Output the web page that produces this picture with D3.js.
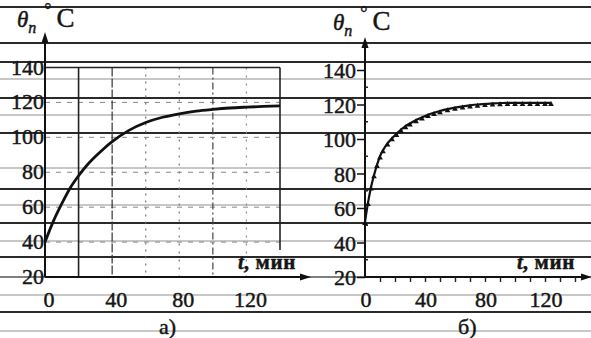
<!DOCTYPE html>
<html>
<head>
<meta charset="utf-8">
<script src="https://cdn.jsdelivr.net/npm/d3@7"></script>
<style>
  body { margin: 0; background: #fff; }
</style>
</head>
<body>
<svg id="fig" width="591" height="338"></svg>
<script>
// data
var timeA = [0, 5, 10, 15, 20, 25, 30, 35, 40, 50, 60, 70, 80, 90, 100, 110, 120, 130, 140];
var tempA = [40, 52, 62, 71, 78, 84, 89, 93.5, 97.5, 104, 108.5, 111.5, 113.5, 115, 116, 116.8, 117.3, 117.7, 118];

var timeB = [0, 2, 4, 6, 8, 10, 12, 15, 18, 21, 24, 27, 30, 34, 38, 42, 46, 50, 55, 60, 65, 70, 75, 80, 85, 90, 95, 100, 105, 110, 115, 120, 124];
var tempB = [52, 63, 72, 79, 85, 90, 93.5, 97.5, 100.5, 103, 105.5, 107.5, 109, 111, 112.5, 114, 115.2, 116.2, 117.3, 118.2, 118.9, 119.5, 120, 120.3, 120.6, 120.8, 121, 121, 121, 121, 121, 121, 121];

var xTicksLabel = [0, 40, 80, 120];
var yTicksLabel = [20, 40, 60, 80, 100, 120, 140];
var gridA = [20, 40, 60, 80, 100, 120, 140];
var hGridA = [40, 60, 80, 100, 120];

var serif = "Liberation Serif";

// horizontal stripes of the scanned page (pixel rows, dark or light)
var stripes = [[7, 1], [43, 0.6], [62, 1], [79, 0.3], [98, 1], [115, 0.3], [133, 1], [168, 0.35],
  [189, 1], [205, 0.3], [223, 1], [241, 0.3], [257, 0.9], [295, 0.3], [312, 1], [331, 0.3]];

var svg = d3.select("#fig");

svg.selectAll(".stripe")
  .data(stripes)
  .join("line")
  .attr("x1", 0).attr("x2", 591)
  .attr("y1", d => d[0]).attr("y2", d => d[0])
  .attr("stroke", d => d[1] > 0.5 ? "#2a2a2a" : "#b5b5b5")
  .attr("stroke-width", d => d[1] > 0.5 ? 2 : 1.6);

svg.append("line").attr("x1", 0).attr("x2", 591).attr("y1", 277).attr("y2", 277)
  .attr("stroke", "#555").attr("stroke-width", 1.5);

function arrowHead(g, x, y, dir) {
  var p = dir == "up"
    ? [[x, y], [x - 3.5, y + 11], [x + 3.5, y + 11]]
    : [[x, y], [x - 11, y - 3.5], [x - 11, y + 3.5]];
  g.append("path").attr("d", "M" + p.join("L") + "Z").attr("fill", "#111");
}

// scanned print is heavy, so give the glyphs a thin outline
function ink(sel) {
  return sel.attr("font-family", serif).attr("fill", "#151515")
    .attr("stroke", "#151515").attr("stroke-width", 0.45);
}

function txt(g) {
  return ink(g.append("text"));
}

function yLabel(g, x, y) {
  var t = txt(g).attr("x", x).attr("y", y);
  t.append("tspan").text("θ").attr("font-style", "italic").attr("font-size", 23);
  t.append("tspan").text("п").attr("font-style", "italic").attr("font-size", 16).attr("dy", 6);
  t.append("tspan").text("°").attr("font-size", 18).attr("dy", -17).attr("dx", 8);
  t.append("tspan").text("C").attr("font-size", 27).attr("dy", 11).attr("dx", 5);
}

function tLabel(g, x, y) {
  var t = txt(g).attr("x", x).attr("y", y).attr("font-size", 21).attr("font-weight", "bold");
  t.append("tspan").text("t").attr("font-style", "italic");
  t.append("tspan").text(", мин").attr("letter-spacing", 0.6);
}

// ---------- panel a ----------
var xA = d3.scaleLinear().domain([0, 140]).range([45, 280]);
var yA = d3.scaleLinear().domain([20, 140]).range([277, 67.5]);
var gA = svg.append("g");

var vStyle = {20: "none", 40: "9,2", 60: "2,5", 80: "2,6", 100: "7,3,2,3", 120: "2,6", 140: "none"};
var vColor = {20: "#222", 40: "#333", 60: "#777", 80: "#777", 100: "#444", 120: "#888", 140: "#222"};

gA.selectAll(".hg")
  .data(hGridA)
  .join("line")
  .attr("x1", xA(0)).attr("x2", xA(140))
  .attr("y1", d => yA(d)).attr("y2", d => yA(d))
  .attr("stroke", "#888").attr("stroke-width", 1).attr("stroke-dasharray", "5,6");

gA.selectAll(".vg")
  .data(gridA)
  .join("line")
  .attr("x1", d => xA(d)).attr("x2", d => xA(d))
  .attr("y1", yA(140)).attr("y2", d => d == 140 ? 250 : yA(20))
  .attr("stroke", d => vColor[d]).attr("stroke-width", d => (d == 20 || d == 140) ? 1.6 : 1.2)
  .attr("stroke-dasharray", d => vStyle[d]);

gA.append("line").attr("x1", xA(0)).attr("x2", xA(140)).attr("y1", yA(140)).attr("y2", yA(140))
  .attr("stroke", "#222").attr("stroke-width", 1.6);

gA.append("line").attr("x1", xA(0)).attr("x2", xA(0)).attr("y1", yA(20)).attr("y2", 40)
  .attr("stroke", "#111").attr("stroke-width", 2);
arrowHead(gA, xA(0), 32, "up");
gA.append("line").attr("x1", xA(0)).attr("x2", 302).attr("y1", yA(20)).attr("y2", yA(20))
  .attr("stroke", "#111").attr("stroke-width", 2);
arrowHead(gA, 311, yA(20), "right");

ink(gA.selectAll(".yl")
  .data(yTicksLabel)
  .join("text"))
  .attr("x", xA(0) - 1).attr("y", d => yA(d) + 7)
  .attr("text-anchor", "end").attr("font-size", 22)
  .text(d => d);

ink(gA.selectAll(".xl")
  .data(xTicksLabel)
  .join("text"))
  .attr("x", d => xA(d) + 4).attr("y", 307)
  .attr("text-anchor", "middle").attr("font-size", 22)
  .text(d => d);

gA.append("path")
  .datum(timeA.map((t, i) => [t, tempA[i]]))
  .attr("d", d3.line().x(d => xA(d[0])).y(d => yA(d[1])).curve(d3.curveMonotoneX))
  .attr("fill", "none").attr("stroke", "#111").attr("stroke-width", 2.8);

yLabel(gA, 17, 27);
tLabel(gA, 238, 269);
txt(gA).attr("x", 159).attr("y", 334).attr("font-size", 22).text("а)");

// ---------- panel b ----------
var xB = d3.scaleLinear().domain([0, 140]).range([365, 575]);
var yB = d3.scaleLinear().domain([20, 140]).range([277, 70]);
var gB = svg.append("g");

gB.append("line").attr("x1", xB(0)).attr("x2", xB(0)).attr("y1", yB(20)).attr("y2", 45)
  .attr("stroke", "#111").attr("stroke-width", 2);
arrowHead(gB, xB(0), 37, "up");
gB.append("line").attr("x1", xB(0)).attr("x2", 582).attr("y1", yB(20)).attr("y2", yB(20))
  .attr("stroke", "#111").attr("stroke-width", 2);
arrowHead(gB, 592, yB(20), "right");

gB.append("g")
  .attr("transform", "translate(" + xB(0) + ",0)")
  .call(d3.axisLeft(yB).tickValues(yTicksLabel).tickSize(8).tickPadding(1).tickFormat(d => d))
  .call(g => g.select(".domain").remove())
  .call(g => g.selectAll("line").attr("stroke", "#111").attr("stroke-width", 1.5))
  .call(g => ink(g.selectAll("text")).attr("font-size", 22).attr("dy", "0.35em"));

gB.selectAll(".ym")
  .data(d3.range(30, 140, 20))
  .join("line")
  .attr("x1", xB(0)).attr("x2", xB(0) + 3)
  .attr("y1", d => yB(d)).attr("y2", d => yB(d))
  .attr("stroke", "#222").attr("stroke-width", 1.5);

gB.append("g")
  .attr("transform", "translate(0," + yB(20) + ")")
  .call(d3.axisBottom(xB).tickValues(d3.range(10, 150, 10)).tickSize(5).tickFormat(""))
  .call(g => g.select(".domain").remove())
  .call(g => g.selectAll("line").attr("stroke", "#222").attr("stroke-width", 1.4));

ink(gB.selectAll(".xl")
  .data(xTicksLabel)
  .join("text"))
  .attr("x", d => xB(d) + 1).attr("y", 307)
  .attr("text-anchor", "middle").attr("font-size", 22)
  .text(d => d);

var ptsB = timeB.map((t, i) => [t, tempB[i]]);
gB.append("path")
  .datum(ptsB)
  .attr("d", d3.line().x(d => xB(d[0])).y(d => yB(d[1])).curve(d3.curveMonotoneX))
  .attr("fill", "none").attr("stroke", "#111").attr("stroke-width", 2.2);

gB.selectAll(".mk")
  .data(ptsB)
  .join("path")
  .attr("transform", d => "translate(" + xB(d[0]) + "," + (yB(d[1]) + 1.5) + ")")
  .attr("d", d3.symbol(d3.symbolTriangle, 14))
  .attr("fill", "#111");

yLabel(gB, 333, 30);
tLabel(gB, 517, 269);
txt(gB).attr("x", 458).attr("y", 334).attr("font-size", 22).text("б)");
</script>
</body>
</html>
